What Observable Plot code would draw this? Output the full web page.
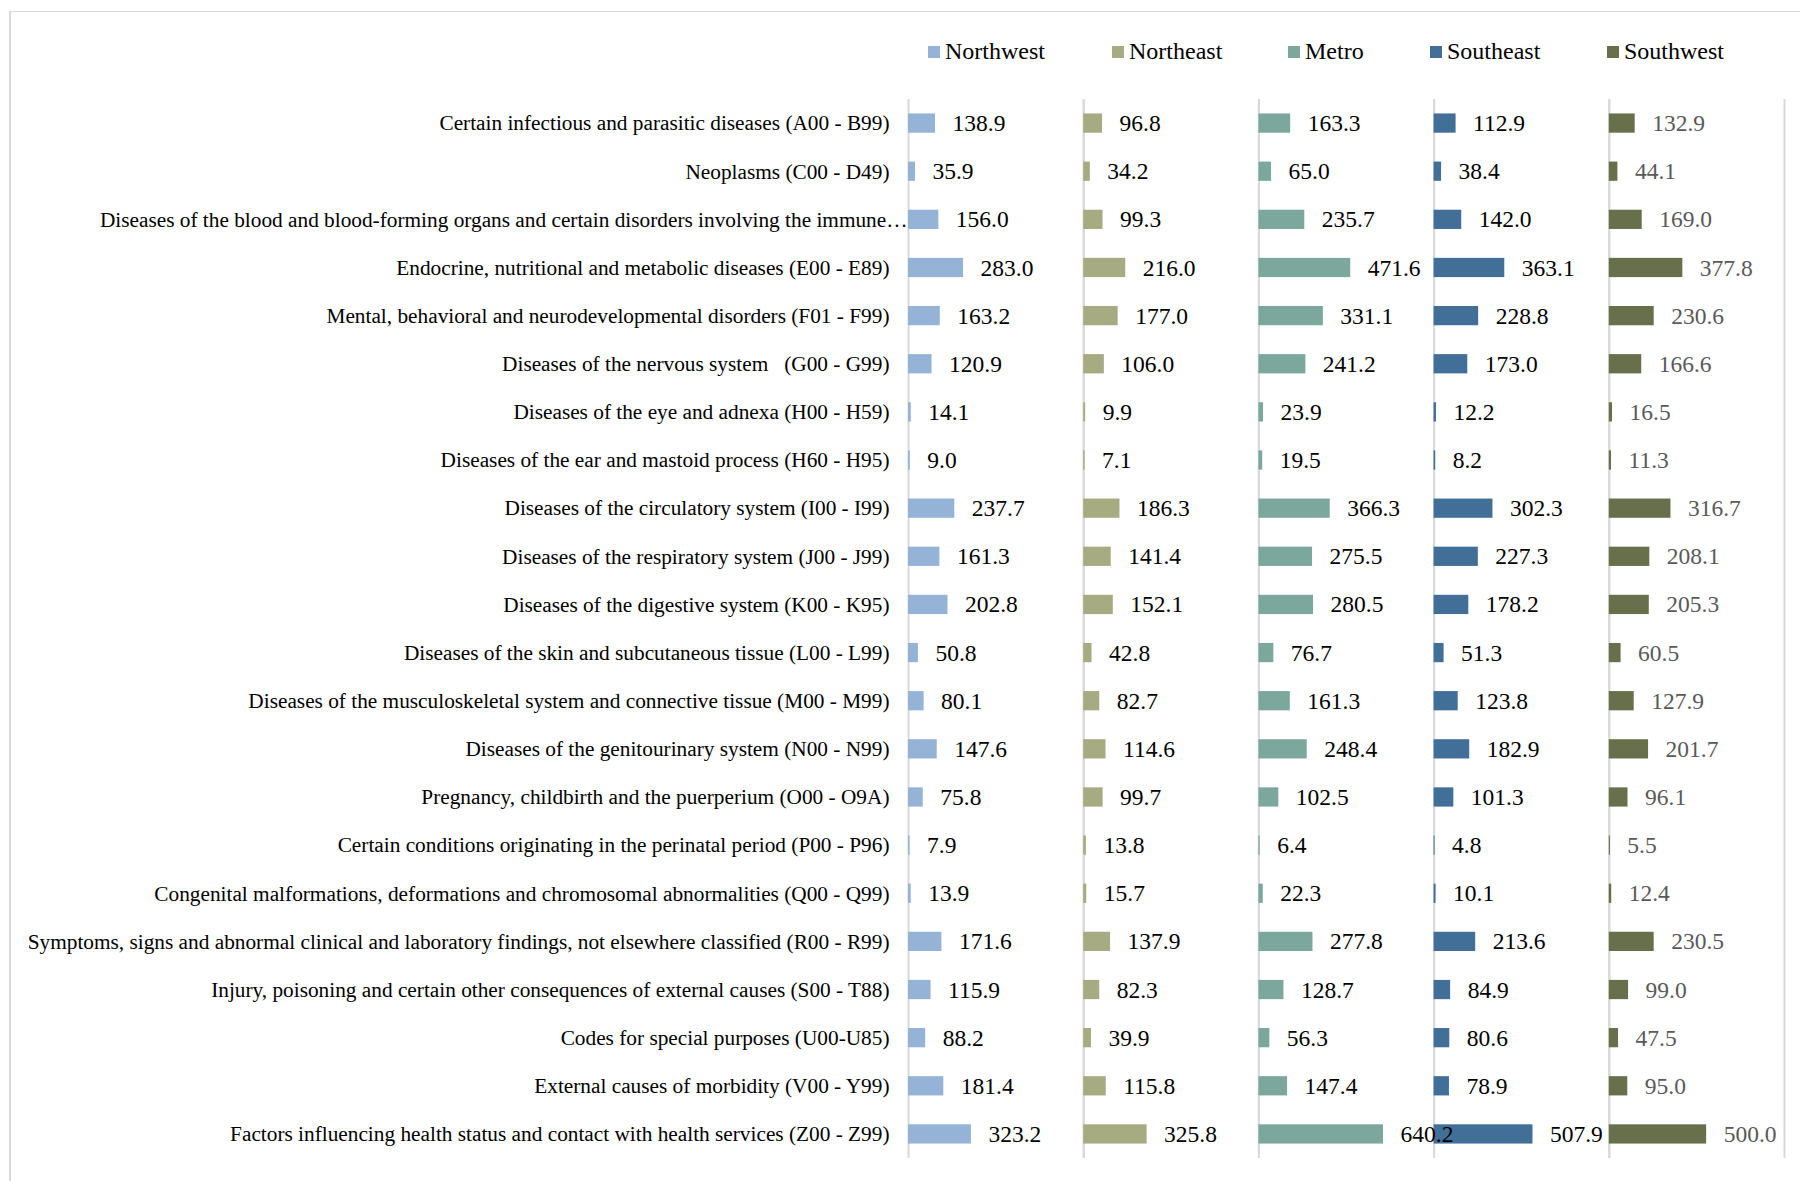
<!DOCTYPE html>
<html>
<head>
<meta charset="utf-8">
<script src="https://cdn.jsdelivr.net/npm/d3@7"></script>
<script src="https://cdn.jsdelivr.net/npm/@observablehq/plot@0.6"></script>
<style>
  html, body { margin: 0; padding: 0; background: #fff; }
  #wrap { position: relative; width: 1800px; height: 1181px; overflow: hidden; background: #fff;
          font-family: "Liberation Serif", "Times New Roman", serif; }
  #border { position: absolute; left: 9px; top: 11px; width: 1900px; height: 1300px;
            border-left: 2px solid #d9d9d9; border-top: 1px solid #d9d9d9; pointer-events: none; z-index: 5; }
  #legend { position: relative; height: 80px; }
  .item { position: absolute; top: 39px; height: 24px; }
  .sw { position: absolute; top: 7px; left: 0; width: 12px; height: 12px; }
  .lt { position: absolute; left: 17px; top: 0; font-size: 24px; line-height: 24px; white-space: nowrap; color: #000; }
</style>
</head>
<body>
<div id="wrap">
  <div id="border"></div>
  <div id="legend"></div>
  <div id="chart"></div>
</div>
<script>
const categories = [
  "Certain infectious and parasitic diseases (A00 - B99)",
  "Neoplasms (C00 - D49)",
  "Diseases of the blood and blood-forming organs and certain disorders involving the immune\u2026",
  "Endocrine, nutritional and metabolic diseases (E00 - E89)",
  "Mental, behavioral and neurodevelopmental disorders (F01 - F99)",
  "Diseases of the nervous system\u00a0\u00a0\u00a0(G00 - G99)",
  "Diseases of the eye and adnexa (H00 - H59)",
  "Diseases of the ear and mastoid process (H60 - H95)",
  "Diseases of the circulatory system (I00 - I99)",
  "Diseases of the respiratory system (J00 - J99)",
  "Diseases of the digestive system (K00 - K95)",
  "Diseases of the skin and subcutaneous tissue (L00 - L99)",
  "Diseases of the musculoskeletal system and connective tissue (M00 - M99)",
  "Diseases of the genitourinary system (N00 - N99)",
  "Pregnancy, childbirth and the puerperium (O00 - O9A)",
  "Certain conditions originating in the perinatal period (P00 - P96)",
  "Congenital malformations, deformations and chromosomal abnormalities (Q00 - Q99)",
  "Symptoms, signs and abnormal clinical and laboratory findings, not elsewhere classified (R00 - R99)",
  "Injury, poisoning and certain other consequences of external causes (S00 - T88)",
  "Codes for special purposes (U00-U85)",
  "External causes of morbidity (V00 - Y99)",
  "Factors influencing health status and contact with health services (Z00 - Z99)"
];
const truncatedCategory = categories[2];

const regions = ["Northwest", "Northeast", "Metro", "Southeast", "Southwest"];
const regionColors = ["#95b3d7", "#a6ab81", "#7ba79d", "#426f98", "#67704a"];

const northwest = [138.9, 35.9, 156.0, 283.0, 163.2, 120.9, 14.1, 9.0, 237.7, 161.3, 202.8, 50.8, 80.1, 147.6, 75.8, 7.9, 13.9, 171.6, 115.9, 88.2, 181.4, 323.2];
const northeast = [96.8, 34.2, 99.3, 216.0, 177.0, 106.0, 9.9, 7.1, 186.3, 141.4, 152.1, 42.8, 82.7, 114.6, 99.7, 13.8, 15.7, 137.9, 82.3, 39.9, 115.8, 325.8];
const metro     = [163.3, 65.0, 235.7, 471.6, 331.1, 241.2, 23.9, 19.5, 366.3, 275.5, 280.5, 76.7, 161.3, 248.4, 102.5, 6.4, 22.3, 277.8, 128.7, 56.3, 147.4, 640.2];
const southeast = [112.9, 38.4, 142.0, 363.1, 228.8, 173.0, 12.2, 8.2, 302.3, 227.3, 178.2, 51.3, 123.8, 182.9, 101.3, 4.8, 10.1, 213.6, 84.9, 80.6, 78.9, 507.9];
const southwest = [132.9, 44.1, 169.0, 377.8, 230.6, 166.6, 16.5, 11.3, 316.7, 208.1, 205.3, 60.5, 127.9, 201.7, 96.1, 5.5, 12.4, 230.5, 99.0, 47.5, 95.0, 500.0];

const series = [northwest, northeast, metro, southeast, southwest];
const xMax = 900;

const data = regions.flatMap((r, i) => categories.map((c, j) => ({region: r, category: c, value: series[i][j]})));

// legend (HTML, above the SVG)
const legendLeft = [928, 1112, 1288, 1430, 1607];
const legend = document.getElementById("legend");
regions.forEach((r, i) => {
  const it = document.createElement("div");
  it.className = "item";
  it.style.left = legendLeft[i] + "px";
  const sw = document.createElement("div");
  sw.className = "sw";
  sw.style.background = regionColors[i];
  const t = document.createElement("div");
  t.className = "lt";
  t.textContent = r;
  it.appendChild(sw); it.appendChild(t);
  legend.appendChild(it);
});

const labelStyle = {fontSize: 21.3, fill: "#000"};

const chart = Plot.plot({
  width: 1800,
  height: 1101,
  marginTop: 19,
  marginBottom: 23,
  marginLeft: 908,
  marginRight: 16,
  style: {fontFamily: '"Liberation Serif", "Times New Roman", serif', fontSize: "21.3px", color: "#000", background: "transparent", overflow: "visible"},
  fx: {domain: regions, padding: 0, axis: null, round: false},
  x: {domain: [0, xMax], axis: null},
  y: {domain: categories, paddingInner: 0.6, paddingOuter: 0.3, align: 0.5, round: false, axis: null, label: null},
  color: {domain: regions, range: regionColors},
  marks: [
    Plot.ruleX([0, xMax], {stroke: "#d9d9d9", strokeWidth: 2}),
    Plot.axisY(categories.filter(c => c !== truncatedCategory), {tickSize: 0, tickPadding: 19, label: null, ...labelStyle}),
    Plot.axisY([truncatedCategory], {tickSize: 0, tickPadding: 1, label: null, ...labelStyle}),
    Plot.barX(data, {x: "value", y: "category", fx: "region", fill: "region"}),
    Plot.text(data.filter(d => d.region !== "Southwest"), {x: "value", y: "category", fx: "region", text: d => d.value.toFixed(1), dx: 17, textAnchor: "start", fontSize: 23.5, fill: "#000"}),
    Plot.text(data.filter(d => d.region === "Southwest"), {x: "value", y: "category", fx: "region", text: d => d.value.toFixed(1), dx: 17, textAnchor: "start", fontSize: 23.5, fill: "#595959"})
  ]
});
document.getElementById("chart").appendChild(chart);
</script>
</body>
</html>
